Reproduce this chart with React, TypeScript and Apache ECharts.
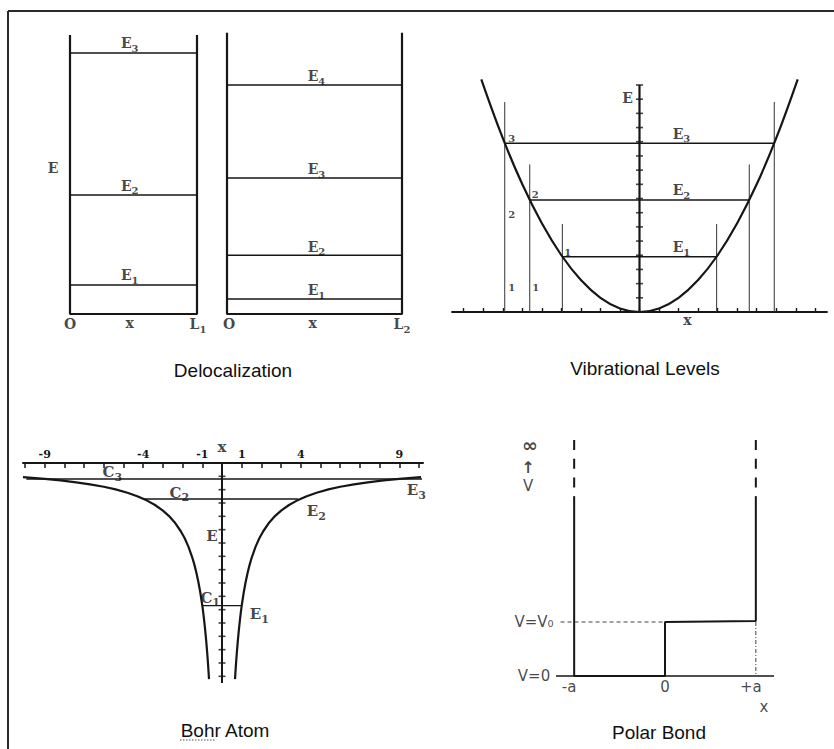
import React, { useEffect, useRef } from "react";
import * as echarts from "echarts";

// ---------- Delocalization (particle in a box) ----------
const delocLeftLevels = [1.0, 4.1, 9.0];
const delocLeftLevelNames = ["1", "2", "3"];
const delocRightLevels = [0.52, 2.03, 4.69, 7.9];
const delocRightLevelNames = ["1", "2", "3", "4"];
const delocLeftWallTop = 9.62;
const delocRightWallTop = 9.7;

// ---------- Vibrational levels (harmonic well) ----------
const vibCurveX = [-8.1, -7, -6, -5, -4, -3, -2, -1, 0, 1, 2, 3, 4, 5, 6, 7, 8.1];
const vibCurveE = [16.4, 12.25, 9, 6.25, 4, 2.25, 1, 0.25, 0, 0.25, 1, 2.25, 4, 6.25, 9, 12.25, 16.4];
const vibLevels = [3.9, 7.9, 11.9];
const vibTurning = [3.95, 5.62, 6.9];
const vibGuideTops = [6.2, 10.4, 14.8];
const vibLevelNames = ["1", "2", "3"];
const vibXTicks = [-9, -8, -7, -6, -5, -4, -3, -2, -1, 0, 1, 2, 3, 4, 5, 6, 7, 8, 9];
const vibETicks = [1, 2, 3, 4, 5, 6, 7, 8, 9, 10, 11, 12, 13, 14, 15, 16];
const vibEAxisTop = 16;

// ---------- Bohr atom (Coulomb well) ----------
const bohrCurveX = [
  0.66, 0.68, 0.7, 0.72, 0.75, 0.8, 0.85, 0.9, 0.95, 1.0, 1.1, 1.2, 1.3, 1.4, 1.5, 1.7,
  1.9, 2.1, 2.4, 2.7, 3.0, 3.4, 3.8, 4.3, 4.8, 5.4, 6.0, 6.7, 7.4, 8.2, 9.0, 10.1,
];
const bohrCurveE = [
  -16.21, -15.74, -15.29, -14.86, -14.27, -13.38, -12.59, -11.89, -11.26, -10.7, -9.73, -8.92,
  -8.23, -7.64, -7.13, -6.29, -5.63, -5.1, -4.46, -3.96, -3.57, -3.15, -2.82, -2.49, -2.23,
  -1.98, -1.78, -1.6, -1.45, -1.3, -1.19, -1.06,
];
const bohrLevels = [-10.7, -2.7, -1.2];
const bohrLevelSpans = [[-1.0, 1.0], [-3.95, 3.85], [-9.93, 10.15]];
const bohrLevelNames = ["1", "2", "3"];
const bohrXTicks = [-10, -9, -8, -7, -6, -5, -4, -3, -2, -1, 0, 1, 2, 3, 4, 5, 6, 7, 8, 9, 10];
const bohrXTickLabels = [-9, -4, -1, 1, 4, 9];
const bohrETicks = [-1, -2, -3, -4, -5, -6, -7, -8, -9, -10, -11, -12, -13, -14, -15, -16];
const bohrEAxisBottom = -16.5;

// ---------- Polar bond (step well) ----------
const polarA = 1;
const polarV0 = 1;
const polarWallSolidTop = 3.33;
const polarWallDashTop = 4.37;
const polarBaseExtent = [-1.2, 1.2];
const polarXNames = ["-a", "0", "+a"];

const INK = "#161616";
const SERIF = "DejaVu Serif";

const sub = (b: string, s: string) => `{m|${b}}{s|${s}}`;
const plain = (b: string) => `{m|${b}}`;

const serifRich = (size: number, subSize: number) => ({
  fontFamily: SERIF,
  fontWeight: "bold",
  color: INK,
  rich: {
    m: { fontFamily: SERIF, fontWeight: "bold", fontSize: size, lineHeight: size + 6, color: INK, verticalAlign: "middle" },
    s: { fontFamily: SERIF, fontWeight: "bold", fontSize: subSize, lineHeight: subSize, color: INK, verticalAlign: "bottom" },
  },
});

const line = (g: number, data: any[], width: number, extra: any = {}) => ({
  type: "line",
  xAxisIndex: g,
  yAxisIndex: g,
  data,
  symbol: "none",
  silent: true,
  clip: false,
  lineStyle: { color: INK, width, ...(extra.lineStyle || {}) },
  smooth: extra.smooth || false,
  z: extra.z || 2,
});

const labels = (g: number, items: any[], font: any) => ({
  type: "scatter",
  xAxisIndex: g,
  yAxisIndex: g,
  symbolSize: 1,
  silent: true,
  clip: false,
  itemStyle: { color: "rgba(0,0,0,0)" },
  label: { show: true, position: "inside", ...font },
  data: items.map(([x, y, t, dx, dy]) => ({
    value: [x, y],
    label: { formatter: t, offset: [dx, dy] },
  })),
  z: 10,
});

const crossTicks = (g: number, pts: number[][]) => ({
  type: "scatter",
  xAxisIndex: g,
  yAxisIndex: g,
  symbol: "rect",
  symbolSize: [7, 1.6],
  silent: true,
  clip: false,
  itemStyle: { color: INK },
  data: pts,
  z: 5,
});

const hiddenAxis = (min: number, max: number) => ({
  type: "value",
  min,
  max,
  show: false,
  splitLine: { show: false },
});

function buildOption() {
  const series: any[] = [];
  const lvlFont = serifRich(14, 10);

  // Delocalization boxes
  series.push(line(0, [[0, delocLeftWallTop], [0, 0], [1, 0], [1, delocLeftWallTop]], 2.2));
  delocLeftLevels.forEach((e) => series.push(line(0, [[0, e], [1, e]], 1.5)));
  series.push(
    labels(
      0,
      [
        ...delocLeftLevels.map((e, i) => [0.47, e, sub("E", delocLeftLevelNames[i]), 0, -9.5]),
        [0, 5.03, plain("E"), -17, 0],
        [0, 0, plain("O"), 0, 10],
        [0.47, 0, plain("x"), 0, 9],
        [1, 0, sub("L", "1"), 1, 10],
      ],
      lvlFont
    )
  );
  series.push(line(1, [[0, delocRightWallTop], [0, 0], [1, 0], [1, delocRightWallTop]], 2.2));
  delocRightLevels.forEach((e) => series.push(line(1, [[0, e], [1, e]], 1.5)));
  series.push(
    labels(
      1,
      [
        ...delocRightLevels.map((e, i) => [0.5, e, sub("E", delocRightLevelNames[i]), 2, -8.5]),
        [0, 0, plain("O"), 2, 10],
        [0.49, 0, plain("x"), 0, 9],
        [1, 0, sub("L", "2"), 0, 10],
      ],
      lvlFont
    )
  );

  // Vibrational
  series.push(line(2, vibCurveX.map((x, i) => [x, vibCurveE[i]]), 2.2, { smooth: 0.4, z: 4 }));
  series.push(line(2, [[0, 0], [0, vibEAxisTop]], 2.2));
  series.push(crossTicks(2, vibETicks.map((e) => [0, e])));
  vibLevels.forEach((e, i) => series.push(line(2, [[-vibTurning[i], e], [vibTurning[i], e]], 1.5)));
  vibTurning.forEach((t, i) => {
    series.push(line(2, [[-t, 0], [-t, vibGuideTops[i]]], 1, { lineStyle: { color: "#333" } }));
    series.push(line(2, [[t, 0], [t, vibGuideTops[i]]], 1, { lineStyle: { color: "#333" } }));
  });
  series.push(
    labels(
      2,
      [
        ...vibLevels.map((e, i) => [2.15, e, sub("E", vibLevelNames[i]), 0, -9.5]),
        [0, 15.05, plain("E"), -12, 0],
        [2.45, 0, plain("x"), 0, 7.5],
      ],
      lvlFont
    )
  );
  series.push(
    labels(
      2,
      [
        [-vibTurning[2], vibLevels[2], "3", 7, -5],
        [-vibTurning[1], vibLevels[1], "2", 5.5, -5],
        [-vibTurning[0], vibLevels[0], "1", 5.5, -4],
        [-vibTurning[2], 6.84, "2", 7, 0],
        [-vibTurning[2], 1.7, "1", 7, 0],
        [-vibTurning[1], 1.7, "1", 6, 0],
      ],
      { fontFamily: SERIF, fontWeight: "bold", fontSize: 10, color: INK }
    )
  );

  // Bohr atom
  series.push(line(3, bohrCurveX.map((x, i) => [-x, bohrCurveE[i]]), 2.2, { z: 4 }));
  series.push(line(3, bohrCurveX.map((x, i) => [x, bohrCurveE[i]]), 2.2, { z: 4 }));
  series.push(line(3, [[0, 0], [0, bohrEAxisBottom]], 2));
  series.push(crossTicks(3, bohrETicks.map((e) => [0, e])));
  bohrLevels.forEach((e, i) => series.push(line(3, [[bohrLevelSpans[i][0], e], [bohrLevelSpans[i][1], e]], 1.4)));
  series.push(
    labels(
      3,
      [
        [-0.6, bohrLevels[0], sub("C", bohrLevelNames[0]), 0, -8],
        [-2.17, bohrLevels[1], sub("C", bohrLevelNames[1]), 0, -6.5],
        [-5.57, bohrLevels[2], sub("C", bohrLevelNames[2]), 0, -7],
        [1.89, bohrLevels[0], sub("E", bohrLevelNames[0]), 0, 8.5],
        [4.79, bohrLevels[1], sub("E", bohrLevelNames[1]), 0, 12],
        [9.86, bohrLevels[2], sub("E", bohrLevelNames[2]), 0, 11],
        [0, -5.47, plain("E"), -10, 0],
        [0, 0, plain("x"), 0, -16],
      ],
      serifRich(15, 11)
    )
  );

  // Polar bond
  series.push(line(4, [[polarBaseExtent[0], 0], [polarBaseExtent[1], 0]], 1.3));
  series.push(
    line(
      4,
      [
        [-polarA, polarWallSolidTop],
        [-polarA, 0],
        [0, 0],
        [0, polarV0],
        [polarA, polarV0 * 1.02],
        [polarA, polarWallSolidTop],
      ],
      2
    )
  );
  series.push(line(4, [[-polarA, polarWallDashTop], [-polarA, polarWallSolidTop]], 2, { lineStyle: { type: [10, 8.7] } }));
  series.push(line(4, [[polarA, polarWallDashTop], [polarA, polarWallSolidTop]], 2, { lineStyle: { type: [10, 8.7] } }));
  series.push(line(4, [[-1.15, polarV0], [0, polarV0]], 1, { lineStyle: { type: [4, 3], color: "#444" } }));
  series.push(line(4, [[polarA, polarV0], [polarA, 0]], 1, { lineStyle: { type: [4, 2, 1, 2], color: "#444" } }));
  const sans = { fontFamily: "DejaVu Sans", color: INK };
  series.push(
    labels(
      4,
      [
        [polarBaseExtent[0], polarV0, "V=V₀", -22, 0],
        [polarBaseExtent[0], 0, "V=0", -22, 0],
        [-polarA, 0, polarXNames[0], -5, 11],
        [0, 0, polarXNames[1], 0, 11],
        [polarA, 0, polarXNames[2], -5, 11],
        [polarBaseExtent[1], 0, "x", -10, 31],
        [polarBaseExtent[0], 3.52, "V", -28, 0],
      ],
      { ...sans, fontSize: 15 }
    )
  );
  series.push(
    labels(4, [[polarBaseExtent[0], 4.24, "∞", -26, -2.5]], { ...sans, fontSize: 19, fontWeight: "bold", lineHeight: 14 })
  );
  series.push(
    labels(4, [[polarBaseExtent[0], 3.94, "↑", -28, 4]], { ...sans, fontSize: 16, fontWeight: "bold", lineHeight: 14 })
  );

  const titleFont = { fontFamily: "Liberation Sans", fontSize: 19, fill: "#111" };
  const title = (text: string, x: number, y: number) => ({
    type: "text",
    x,
    y,
    silent: true,
    style: { text, ...titleFont, align: "center", verticalAlign: "middle" },
  });

  return {
    animation: false,
    backgroundColor: "#ffffff",
    grid: [
      { left: 70, top: 35, width: 127, height: 279, containLabel: false, outerBoundsMode: "none" },
      { left: 227, top: 35, width: 175, height: 279, containLabel: false, outerBoundsMode: "none" },
      { left: 452, top: 85, width: 375, height: 227, containLabel: false, outerBoundsMode: "none" },
      { left: 23, top: 463, width: 400, height: 220, containLabel: false, outerBoundsMode: "none" },
      { left: 556, top: 438.4, width: 218, height: 237.6, containLabel: false, outerBoundsMode: "none" },
    ],
    xAxis: [
      { ...hiddenAxis(0, 1), gridIndex: 0 },
      { ...hiddenAxis(0, 1), gridIndex: 1 },
      {
        type: "value",
        gridIndex: 2,
        min: -9.6,
        max: 9.6,
        axisLine: { show: true, onZero: true, lineStyle: { color: INK, width: 1.8 } },
        axisTick: { show: true, inside: true, length: 4, customValues: vibXTicks, lineStyle: { color: INK, width: 1.4 } },
        axisLabel: { show: false },
        splitLine: { show: false },
      },
      {
        type: "value",
        gridIndex: 3,
        position: "top",
        min: -10.1,
        max: 10.2,
        axisLine: { show: true, onZero: true, lineStyle: { color: INK, width: 2 } },
        axisTick: { show: true, inside: true, length: 5, customValues: bohrXTicks, lineStyle: { color: INK, width: 1.5 } },
        axisLabel: {
          show: true,
          customValues: bohrXTickLabels,
          margin: 3,
          fontFamily: SERIF,
          fontWeight: "bold",
          fontSize: 11,
          color: INK,
        },
        splitLine: { show: false },
      },
      { ...hiddenAxis(-1.2, 1.2), gridIndex: 4 },
    ],
    yAxis: [
      { ...hiddenAxis(0, 9.62), gridIndex: 0 },
      { ...hiddenAxis(0, 9.62), gridIndex: 1 },
      { ...hiddenAxis(0, 16), gridIndex: 2 },
      { ...hiddenAxis(bohrEAxisBottom, 0), gridIndex: 3 },
      { ...hiddenAxis(0, 4.4), gridIndex: 4 },
    ],
    series,
    graphic: [
      { type: "line", silent: true, shape: { x1: 8, y1: 11, x2: 834, y2: 11 }, style: { stroke: "#2a2a2a", lineWidth: 2 } },
      { type: "line", silent: true, shape: { x1: 8, y1: 11, x2: 8, y2: 749 }, style: { stroke: "#2a2a2a", lineWidth: 2 } },
      title("Delocalization", 233, 370),
      title("Vibrational Levels", 645, 368),
      title("Bohr Atom", 225, 730),
      title("Polar Bond", 659, 732),
      {
        type: "line",
        silent: true,
        shape: { x1: 180, y1: 740, x2: 215, y2: 740 },
        style: { stroke: "#8a8a8a", lineWidth: 1.5, lineDash: [1.5, 1.5] },
      },
    ],
  };
}

export default function App() {
  const ref = useRef<HTMLDivElement>(null);
  useEffect(() => {
    if (!ref.current) return;
    const chart = echarts.init(ref.current, null, { renderer: "svg" });
    chart.setOption(buildOption() as any);
    return () => chart.dispose();
  }, []);
  return (
    <div
      ref={ref}
      style={{ position: "fixed", left: 0, top: 0, width: 834, height: 749, background: "#ffffff" }}
    />
  );
}
